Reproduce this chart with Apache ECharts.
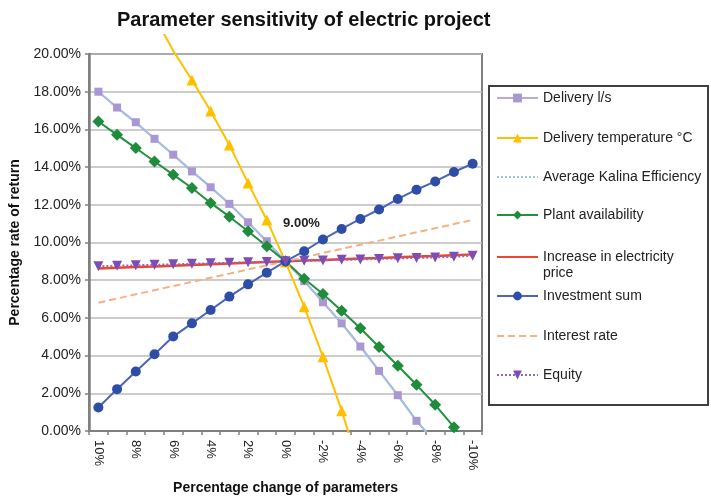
<!DOCTYPE html>
<html><head><meta charset="utf-8">
<script src="https://cdn.jsdelivr.net/npm/echarts@6/dist/echarts.min.js"></script>
<style>html,body{margin:0;padding:0;background:#fff}#c{width:711px;height:500px}</style>
</head><body><div id="c"></div>
<script>
// ---- data ----
const categories = ['10%','9%','8%','7%','6%','5%','4%','3%','2%','1%','0%','-1%','-2%','-3%','-4%','-5%','-6%','-7%','-8%','-9%','-10%'];
const yTickLabels = ['0.00%','2.00%','4.00%','6.00%','8.00%','10.00%','12.00%','14.00%','16.00%','18.00%','20.00%'];
const seriesNames = ['Delivery l/s','Delivery temperature °C','Average Kalina Efficiency','Plant availability','Increase in electricity price','Investment sum','Interest rate','Equity'];
const deliveryFlow = [18.0,17.16,16.38,15.5,14.66,13.77,12.93,12.05,11.07,10.07,9.0,7.95,6.83,5.71,4.48,3.19,1.9,0.54,-0.6,null,null];
const deliveryTemp = [null,null,null,22.0,20.17,18.62,16.98,15.19,13.17,11.22,9.0,6.63,3.98,1.13,-2.0,null,null,null,null,null,null];
const kalina = [18.02,17.14,16.35,15.52,14.66,13.8,12.95,12.05,11.07,10.05,9.0,7.97,6.85,5.72,4.5,3.2,1.9,0.55,-0.6,null,null];
const plant = [16.42,15.71,15.01,14.3,13.6,12.89,12.1,11.37,10.6,9.8,9.0,8.08,7.27,6.38,5.45,4.46,3.46,2.45,1.39,0.2,-1.0];
const electricity = [8.62,8.66,8.70,8.73,8.77,8.81,8.85,8.88,8.92,8.96,9.0,9.04,9.07,9.11,9.15,9.18,9.22,9.26,9.29,9.33,9.37];
const investment = [1.25,2.22,3.16,4.07,5.01,5.71,6.42,7.13,7.78,8.4,9.0,9.54,10.16,10.72,11.25,11.75,12.31,12.8,13.24,13.74,14.18];
const interest = [6.8,7.03,7.25,7.47,7.69,7.91,8.13,8.35,8.57,8.79,9.0,9.22,9.44,9.66,9.88,10.1,10.32,10.54,10.76,10.98,11.2];
const equity = [8.74,8.77,8.79,8.82,8.84,8.87,8.9,8.92,8.95,8.97,9.0,9.03,9.05,9.08,9.1,9.13,9.16,9.18,9.21,9.24,9.3];
const crossLabel = '9.00%';
const crossIndex = 10;

// ---- chart ----
const FF = '"Liberation Sans", Arial, sans-serif';
const chart = echarts.init(document.getElementById('c'), null, {renderer:'canvas'});
const noMarker = [false, false, true, false, true, false, true, false];
const legendCenters = [98, 138, 177, 215, 257, 296, 336, 375];
const legends = seriesNames.map((n, i) => {
  const item = {name: n};
  if (noMarker[i]) item.itemStyle = {opacity: 0};
  if (i === 2) item.lineStyle = {color: '#9DC3E6', width: 2, type: 'dotted'};
  return {
    data: [item],
    left: 496,
    top: i === 4 ? legendCenters[i] - 24 : legendCenters[i] - 8,
    padding: 0,
    itemWidth: 41,
    itemHeight: 11,
    itemGap: 0,
    selectedMode: false,
    formatter: i === 4 ? '\nIncrease in electricity\nprice' : '{name}',
    textStyle: {fontSize: 14, lineHeight: 16, color: '#222', fontFamily: FF}
  };
});

const tempData = deliveryTemp.map(v => (v !== null && v > 20) ? {value: v, symbol: 'none'} : v);
const invData = investment.map((v, i) => i === crossIndex ? {
  value: v,
  label: {show: true, formatter: crossLabel, position: 'top', offset: [16, -21],
          fontSize: 13, fontWeight: 'bold', color: '#222', fontFamily: FF}
} : v);

const option = {
  backgroundColor: '#fff',
  animation: false,
  title: {text: 'Parameter sensitivity of electric project', left: 117, top: 10, padding: 0,
          textStyle: {fontSize: 20, fontWeight: 'bold', color: '#111', fontFamily: FF}},
  legend: legends,
  grid: [
    {left: 89, top: 54, width: 393, height: 378, show: true, borderColor: '#808080', borderWidth: 2, backgroundColor: 'transparent'},
    {left: 89, top: 35.1, width: 393, height: 396.9}
  ],
  xAxis: [
    {type: 'category', data: categories, boundaryGap: true, gridIndex: 0,
     axisLine: {show: true, lineStyle: {color: '#808080', width: 2}},
     axisTick: {show: true, interval: 0, length: 4, lineStyle: {color: '#808080', width: 1.5}},
     axisLabel: {interval: 1, rotate: -90, fontSize: 13, margin: 9, color: '#222', fontFamily: FF},
     splitLine: {show: false},
     name: 'Percentage change of parameters', nameLocation: 'middle', nameGap: 50,
     nameTextStyle: {fontSize: 14, fontWeight: 'bold', color: '#111', fontFamily: FF}},
    {type: 'category', data: categories, boundaryGap: true, gridIndex: 1, show: false}
  ],
  yAxis: [
    {type: 'value', min: 0, max: 20, interval: 2, gridIndex: 0,
     axisLine: {show: true, lineStyle: {color: '#808080', width: 2.5}},
     axisTick: {show: true, length: 4, lineStyle: {color: '#808080', width: 1.5}},
     axisLabel: {formatter: v => yTickLabels[Math.round(v / 2)], fontSize: 14, margin: 8, color: '#222', fontFamily: FF},
     splitLine: {show: true, lineStyle: {color: '#BBBBBB', width: 1.5}},
     name: 'Percentage rate of return', nameLocation: 'middle', nameGap: 60,
     nameTextStyle: {fontSize: 14, fontWeight: 'bold', color: '#111', fontFamily: FF}},
    {type: 'value', min: 0, max: 21, gridIndex: 1, show: false, splitLine: {show: false}}
  ],
  series: [
    {name: seriesNames[0], type: 'line', data: deliveryFlow, symbol: 'rect', symbolSize: 8,
     itemStyle: {color: '#A897D2'}, lineStyle: {color: '#B9AADB', width: 2}},
    {name: seriesNames[1], type: 'line', data: tempData, xAxisIndex: 1, yAxisIndex: 1, symbol: 'triangle', symbolSize: 11,
     itemStyle: {color: '#FFC000'}, lineStyle: {color: '#FFC000', width: 2}},
    {name: seriesNames[2], type: 'line', data: kalina, symbol: 'none',
     itemStyle: {color: '#9DC3E6'}, lineStyle: {color: '#9DC3E6', width: 2, type: [3, 1]}},
    {name: seriesNames[3], type: 'line', data: plant, symbol: 'diamond', symbolSize: 12,
     itemStyle: {color: '#1E8C3A'}, lineStyle: {color: '#23903F', width: 2}},
    {name: seriesNames[4], type: 'line', data: electricity, symbol: 'none',
     itemStyle: {color: '#F0452A'}, lineStyle: {color: '#F0452A', width: 2.5}},
    {name: seriesNames[5], type: 'line', data: invData, symbol: 'circle', symbolSize: 10,
     itemStyle: {color: '#2E4DA7'}, lineStyle: {color: '#4A64BC', width: 2}},
    {name: seriesNames[6], type: 'line', data: interest, symbol: 'none',
     itemStyle: {color: '#F4B183'}, lineStyle: {color: '#F4B183', width: 2, type: [7, 4]}},
    {name: seriesNames[7], type: 'line', data: equity, symbol: 'triangle', symbolRotate: 180, symbolSize: 10,
     itemStyle: {color: '#7C4DB5'}, lineStyle: {color: '#8D67C6', width: 2, type: 'dotted'}}
  ],
  graphic: [
    {type: 'rect', left: 488, top: 85, z: -1, silent: true,
     shape: {width: 219, height: 319},
     style: {fill: '#fff', stroke: '#3f3f3f', lineWidth: 2}}
  ]
};
chart.setOption(option);
</script>
</body></html>
